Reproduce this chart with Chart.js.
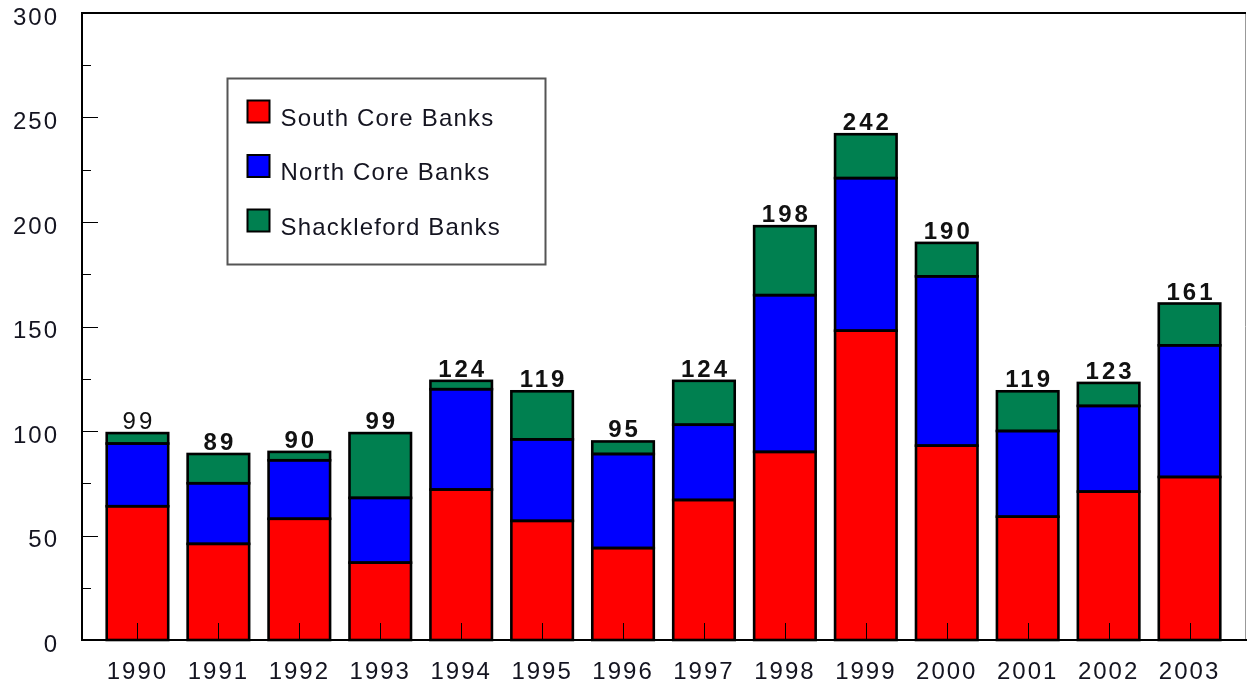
<!DOCTYPE html>
<html>
<head>
<meta charset="utf-8">
<script src="https://cdn.jsdelivr.net/npm/chart.js@4"></script>
<style>
  html, body { margin: 0; padding: 0; background: #fff; }
  #wrap { width: 1247px; height: 685px; }
</style>
</head>
<body>
<div id="wrap"><canvas id="c" width="1247" height="685"></canvas></div>
<script>
// ---- data ----
const years = ['1990','1991','1992','1993','1994','1995','1996','1997','1998','1999','2000','2001','2002','2003'];
const southCore   = [64, 46, 58, 37, 72, 57, 44, 67, 90, 148, 93, 59, 71, 78];
const northCore   = [30, 29, 28, 31, 48, 39, 45, 36, 75, 73, 81, 41, 41, 63];
const shackleford = [5, 14, 4, 31, 4, 23, 6, 21, 33, 21, 16, 19, 11, 20];
const seriesNames = ['South Core Banks', 'North Core Banks', 'Shackleford Banks'];
const yTicks = [0, 50, 100, 150, 200, 250, 300];

// ---- style ----
const COLORS = ['#ff0000', '#0000ff', '#008050'];
const TEXT = '#141420';
const FONT = '"Liberation Sans", Arial, sans-serif';
const FRAME_PAD = 15;
const normalWeightLabels = new Set([0]);

const framePlugin = {
  id: 'frame',
  beforeDraw(chart) {
    chart.ctx.letterSpacing = '2px';
  },
  afterDatasetsDraw(chart) {
    const { ctx, chartArea: a, scales } = chart;
    const y = scales.y, x = scales.x;
    const L = a.left - FRAME_PAD, R = a.right + FRAME_PAD;
    ctx.save();
    // bar outlines, centred on each segment edge
    ctx.strokeStyle = '#000';
    ctx.lineWidth = 2.6;
    chart.data.datasets.forEach((ds, di) => {
      chart.getDatasetMeta(di).data.forEach(el => {
        const { x: cx, y: top, base, width } = el.getProps(['x', 'y', 'base', 'width'], true);
        ctx.strokeRect(cx - width / 2, top, width, base - top);
      });
    });
    // right thin border
    ctx.strokeStyle = '#999';
    ctx.lineWidth = 1;
    ctx.beginPath(); ctx.moveTo(R + 0.5, a.top); ctx.lineTo(R + 0.5, a.bottom); ctx.stroke();
    // frame lines
    ctx.strokeStyle = '#000';
    ctx.lineWidth = 2;
    ctx.beginPath();
    ctx.moveTo(L, a.bottom); ctx.lineTo(L, a.top);
    ctx.moveTo(L - 1, a.top); ctx.lineTo(R + 1, a.top);
    ctx.moveTo(L - 1, a.bottom); ctx.lineTo(chart.width, a.bottom);
    ctx.stroke();
    // y ticks (inward)
    ctx.lineWidth = 1;
    for (let v = 25; v < 300; v += 25) {
      const py = Math.round(y.getPixelForValue(v)) + 0.5;
      const len = v % 50 === 0 ? 16 : 9;
      ctx.beginPath(); ctx.moveTo(L, py); ctx.lineTo(L + len, py); ctx.stroke();
    }
    // x ticks (inward, at category centers)
    years.forEach((_, i) => {
      const px = Math.round(x.getPixelForValue(i)) + 0.5;
      ctx.beginPath(); ctx.moveTo(px, a.bottom); ctx.lineTo(px, a.bottom - 17); ctx.stroke();
    });
    // total labels
    ctx.fillStyle = '#111';
    ctx.textAlign = 'center';
    ctx.textBaseline = 'alphabetic';
    ctx.letterSpacing = '3px';
    years.forEach((_, i) => {
      const total = southCore[i] + northCore[i] + shackleford[i];
      const px = x.getPixelForValue(i) + 1.5;
      const py = y.getPixelForValue(total) - 4;
      ctx.font = (normalWeightLabels.has(i) ? '' : 'bold ') + '24px ' + FONT;
      ctx.fillText(String(total), px, py);
    });
    ctx.restore();
  },
  afterDraw(chart) {
    const { ctx, chartArea: a } = chart;
    const bx = a.left + 130.5, by = a.top + 65.5, bw = 318, bh = 186;
    ctx.save();
    ctx.letterSpacing = '1.2px';
    ctx.fillStyle = '#fff';
    ctx.fillRect(bx, by, bw, bh);
    ctx.strokeStyle = '#555';
    ctx.lineWidth = 2;
    ctx.strokeRect(bx, by, bw, bh);
    ctx.font = '24px ' + FONT;
    ctx.textAlign = 'left';
    ctx.textBaseline = 'alphabetic';
    chart.data.datasets.forEach((ds, i) => {
      const top = by + 22 + i * 54.5;
      ctx.fillStyle = ds.backgroundColor;
      ctx.fillRect(bx + 20, top, 22, 22);
      ctx.strokeStyle = '#000';
      ctx.lineWidth = 2;
      ctx.strokeRect(bx + 20, top, 22, 22);
      ctx.fillStyle = TEXT;
      ctx.fillText(ds.label, bx + 53, top + 25);
    });
    ctx.restore();
  }
};

const datasetsSrc = [southCore, northCore, shackleford];

new Chart(document.getElementById('c'), {
  type: 'bar',
  data: {
    labels: years,
    datasets: datasetsSrc.map((d, i) => ({
      label: seriesNames[i],
      data: d,
      backgroundColor: COLORS[i],
      borderWidth: 0,
      categoryPercentage: 1,
      barPercentage: 0.76
    }))
  },
  options: {
    responsive: false,
    animation: false,
    devicePixelRatio: 1,
    layout: { padding: { top: 13, right: 17, left: 0, bottom: 0 } },
    plugins: {
      legend: { display: false },
      tooltip: { enabled: false },
      title: { display: false }
    },
    scales: {
      x: {
        stacked: true,
        grid: { display: false, drawTicks: false },
        border: { display: false },
        ticks: { color: TEXT, font: { family: FONT, size: 24 }, padding: 18, maxRotation: 0, autoSkip: false },
        afterFit(s) { s.height = 45; s.paddingLeft = 0; s.paddingRight = 0; }
      },
      y: {
        stacked: true,
        min: 0, max: 300,
        afterBuildTicks(s) { s.ticks = yTicks.map(v => ({ value: v })); },
        grid: { display: false, drawTicks: false },
        border: { display: false },
        ticks: { color: TEXT, font: { family: FONT, size: 24 }, padding: 38, labelOffset: 5 },
        afterFit(s) { s.width = 97; s.paddingTop = 0; s.paddingBottom = 0; }
      }
    }
  },
  plugins: [framePlugin]
});
</script>
</body>
</html>
